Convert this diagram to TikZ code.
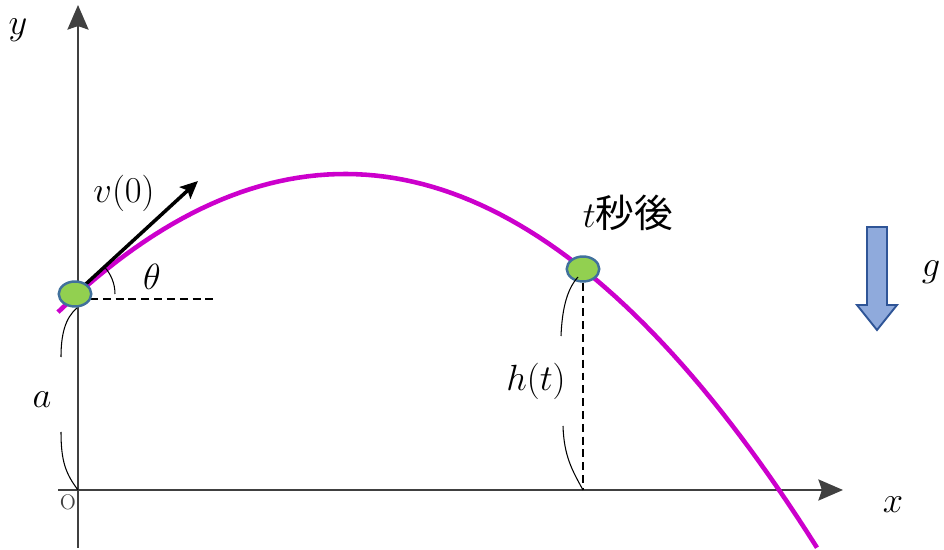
\documentclass[tikz,border=0pt]{standalone}
\usepackage{fontspec}
\newfontfamily\jpfont{Noto Sans CJK JP}
\usetikzlibrary{arrows.meta,shapes.geometric}
\definecolor{axisgray}{HTML}{404040}
\definecolor{trajcol}{HTML}{CC00CC}
\definecolor{ballfill}{HTML}{92D050}
\definecolor{ballline}{HTML}{41719C}
\definecolor{gfill}{HTML}{8FAADC}
\definecolor{gline}{HTML}{2F5597}

\begin{document}
\begin{tikzpicture}[x=0.02cm,y=-0.02cm,
  axisline/.style={draw=axisgray,line width=1.2pt,-{Stealth[length=14pt,width=12pt,inset=2pt]}},
  traj/.style={draw=trajcol,line width=2.6pt},
  vel/.style={line width=2pt,-{Stealth[length=10pt,width=9pt,inset=2pt]}},
  ball/.style={draw=ballline,fill=ballfill,ellipse,line width=1.4pt,minimum width=0.65cm,minimum height=0.5cm,inner sep=0pt},
  guide/.style={line width=0.9pt,dash pattern=on 4.5pt off 2.8pt},
  brace/.style={line width=0.6pt},
  lab/.style={font=\fontsize{22}{26}\selectfont,inner sep=0pt}]
  \useasboundingbox (0,0) rectangle (944,550);
  \coordinate (o) at (78,490);
  \coordinate (ybot) at (78,548);
  \coordinate (ytop) at (78,5);
  \coordinate (xl) at (58,490);
  \coordinate (xr) at (843,490);
  \coordinate (p0) at (75,294);
  \coordinate (pt) at (583,269);
  \coordinate (vtip) at (198,181);
  \coordinate (h0) at (90,299);
  \coordinate (h1) at (217,299);
  \coordinate (foot) at (583,490);
  \draw[axisline] (ybot) -- (ytop);
  \draw[axisline] (xl) -- (xr);
  \draw[traj] plot[domain=58:817,samples=80] (\x,{174+(0.04095*(\x-345))^2});
  \draw[vel] (p0) -- (vtip);
  \draw[guide] (h0) -- (h1);
  \draw[brace] (p0) ++(0.8cm,0) arc[start angle=0,end angle=43,radius=0.8cm];
  \node[ball] (b1) at (p0) {};
  \node[ball] (b2) at (pt) {};
  \draw[guide] (b2.south) -- (foot);
  \draw[brace] (77,308) .. controls (65,318) and (61,335) .. (61,357);
  \draw[brace] (61,432) .. controls (61,462) and (66,474) .. (o);
  \draw[brace] (578,277) .. controls (566,290) and (562,312) .. (561,336);
  \draw[brace] (563,426) .. controls (564,456) and (572,470) .. (foot);
  \filldraw[fill=gfill,draw=gline,line width=1.1pt]
    (867,227) -- (887,227) -- (887,305) -- (897,305) -- (877,330) -- (857,305) -- (867,305) -- cycle;
  \node[lab] (ylab) at (18,30) {$y$};
  \node[lab] (xlab) at (893,505) {$x$};
  \node[font=\fontsize{12}{14}\selectfont,text=axisgray,inner sep=0pt] (olab) at (68,502) {O};
  \node[lab] (vlab) at (124,193) {$v(0)$};
  \node[lab] (thlab) at (152,277) {$\theta$};
  \node[lab] (alab) at (42,400) {$a$};
  \node[lab] (hlab) at (536,381) {$h(t)$};
  \node[lab] (tlab) at (628,213) {$t$\jpfont 秒後};
  \node[lab] (glab) at (931,272) {$g$};
\end{tikzpicture}
\end{document}
